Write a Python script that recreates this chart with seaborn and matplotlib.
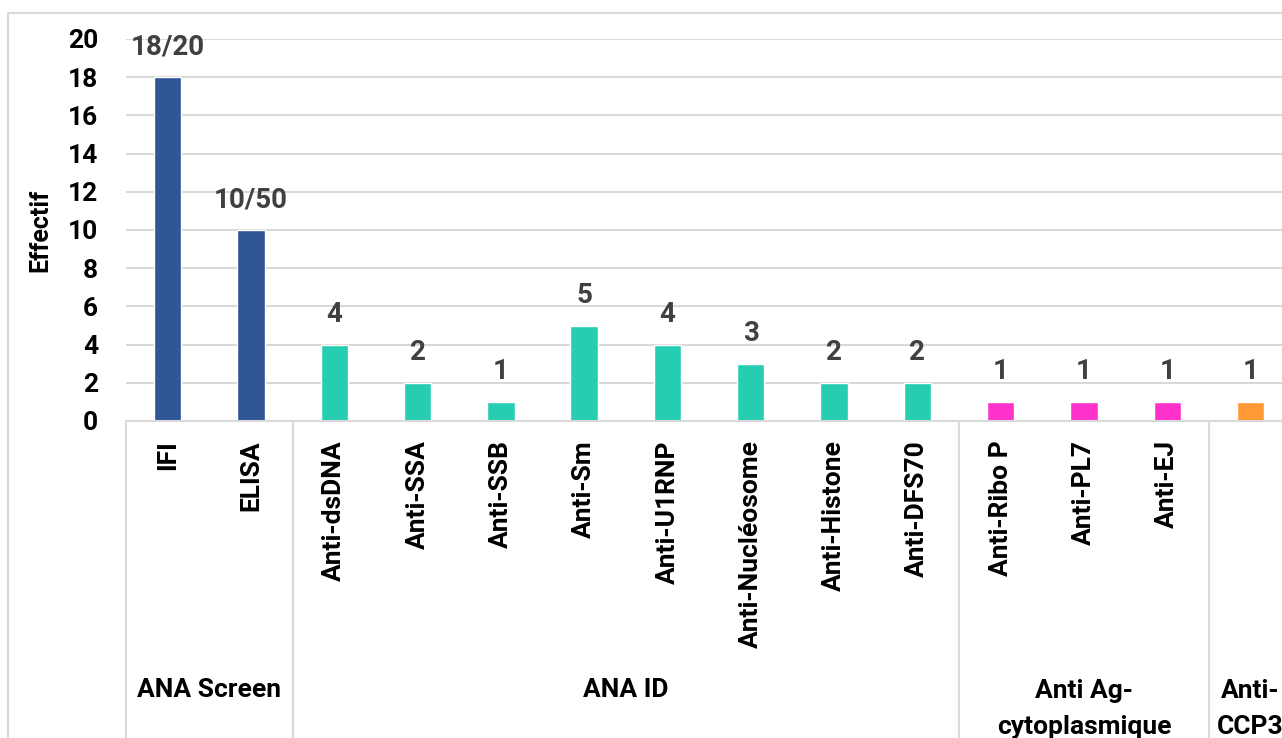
import matplotlib
matplotlib.use("Agg")
import matplotlib.pyplot as plt
import matplotlib.transforms as mtransforms
from matplotlib.lines import Line2D
import seaborn as sns
import pandas as pd

# Data
categories = ["IFI", "ELISA", "Anti-dsDNA", "Anti-SSA", "Anti-SSB", "Anti-Sm",
              "Anti-U1RNP", "Anti-Nucléosome", "Anti-Histone", "Anti-DFS70",
              "Anti-Ribo P", "Anti-PL7", "Anti-EJ", "Anti-CCP3"]
tick_labels = ["IFI", "ELISA", "Anti-dsDNA", "Anti-SSA", "Anti-SSB", "Anti-Sm",
               "Anti-U1RNP", "Anti-Nucléosome", "Anti-Histone", "Anti-DFS70",
               "Anti-Ribo P", "Anti-PL7", "Anti-EJ", ""]
values = [18, 10, 4, 2, 1, 5, 4, 3, 2, 2, 1, 1, 1, 1]
groups = ["ANA Screen"] * 2 + ["ANA ID"] * 8 + ["Anti Ag-\ncytoplasmique"] * 3 + ["Anti-\nCCP3"]
value_labels = ["18/20", "10/50", "4", "2", "1", "5", "4", "3", "2", "2", "1", "1", "1", "1"]
group_colors = {"ANA Screen": "#2F5597", "ANA ID": "#27CDB1",
                "Anti Ag-\ncytoplasmique": "#FF33CC", "Anti-\nCCP3": "#FF9933"}
y_ticks = [0, 2, 4, 6, 8, 10, 12, 14, 16, 18, 20]

df = pd.DataFrame({"cat": categories, "val": values, "grp": groups})

sns.set_theme(style="white")
plt.rcParams["font.family"] = ["Roboto", "DejaVu Sans"]
plt.rcParams["font.weight"] = "bold"

W, H = 1282, 738
fig = plt.figure(figsize=(W / 100, H / 100), dpi=100)
ax_left, ax_bottom = 126 / W, (H - 421) / H
ax_w = 14 * 83.3 / W
ax_h = (421 - 39) / H
ax = fig.add_axes([ax_left, ax_bottom, ax_w, ax_h])

sns.barplot(data=df, x="cat", y="val", hue="grp", palette=group_colors,
            dodge=False, width=0.33, legend=False, ax=ax, saturation=1)

ax.set_xlim(-0.5, len(categories) - 0.5)
ax.set_ylim(0, 20)
ax.set_yticks(y_ticks)
ax.set_yticklabels([str(t) for t in y_ticks], fontsize=19, fontweight="bold", color="black")
ax.tick_params(axis="y", length=0, pad=20)
ax.yaxis.grid(True, color="#D9D9D9", linewidth=1.5)
ax.set_axisbelow(True)
for s in ["top", "right", "left"]:
    ax.spines[s].set_visible(False)
ax.spines["bottom"].set_color("#D9D9D9")
ax.spines["bottom"].set_linewidth(1.5)

ax.set_xlabel("")
ax.set_ylabel("Effectif", fontsize=18, fontweight="bold", color="black", labelpad=11)
ax.set_xticks([])

# Value labels above bars
cat_to_label = dict(zip(categories, value_labels))
for cont in ax.containers:
    labs = []
    for bar in cont:
        if bar.get_height() == 0 or pd.isna(bar.get_height()):
            labs.append("")
        else:
            idx = int(round(bar.get_x() + bar.get_width() / 2))
            labs.append(cat_to_label[categories[idx]])
    ax.bar_label(cont, labels=labs, padding=12, fontsize=20, fontweight="bold", color="#404040")

trans = mtransforms.blended_transform_factory(ax.transData, ax.transAxes)
px = 1 / (421 - 39)  # one pixel in axes-fraction units

# Category labels (rotated)
for i, c in enumerate(tick_labels):
    if c:
        ax.text(i, -19 * px, c, rotation=90, ha="center", va="top", fontsize=19,
                fontweight="bold", color="black", transform=trans)

# Group separators and group labels
bottom = -(H - 421) * px - 0.02
bounds = [-0.5, 1.5, 9.5, 12.5]
for b in bounds:
    ax.add_line(Line2D([b, b], [0, bottom], transform=trans, color="#D9D9D9",
                       linewidth=1.5, clip_on=False))
group_order = ["ANA Screen", "ANA ID", "Anti Ag-\ncytoplasmique", "Anti-\nCCP3"]
for g in group_order:
    idxs = [i for i, gg in enumerate(groups) if gg == g]
    xc = (idxs[0] + idxs[-1]) / 2
    if "\n" in g:
        ax.text(xc, -(679 - 421) * px, g, ha="center", va="top", fontsize=19,
                fontweight="bold", color="black", transform=trans, linespacing=1.62)
    else:
        ax.text(xc, -(690 - 421) * px, g, ha="center", va="center", fontsize=19,
                fontweight="bold", color="black", transform=trans)

# Chart-area border
fig.add_artist(Line2D([8 / W, 8 / W], [0, 1 - 13 / H], color="#D9D9D9", linewidth=1.5))
fig.add_artist(Line2D([8 / W, 1], [1 - 13 / H, 1 - 13 / H], color="#D9D9D9", linewidth=1.5))

fig.savefig("out.png", dpi=100)
